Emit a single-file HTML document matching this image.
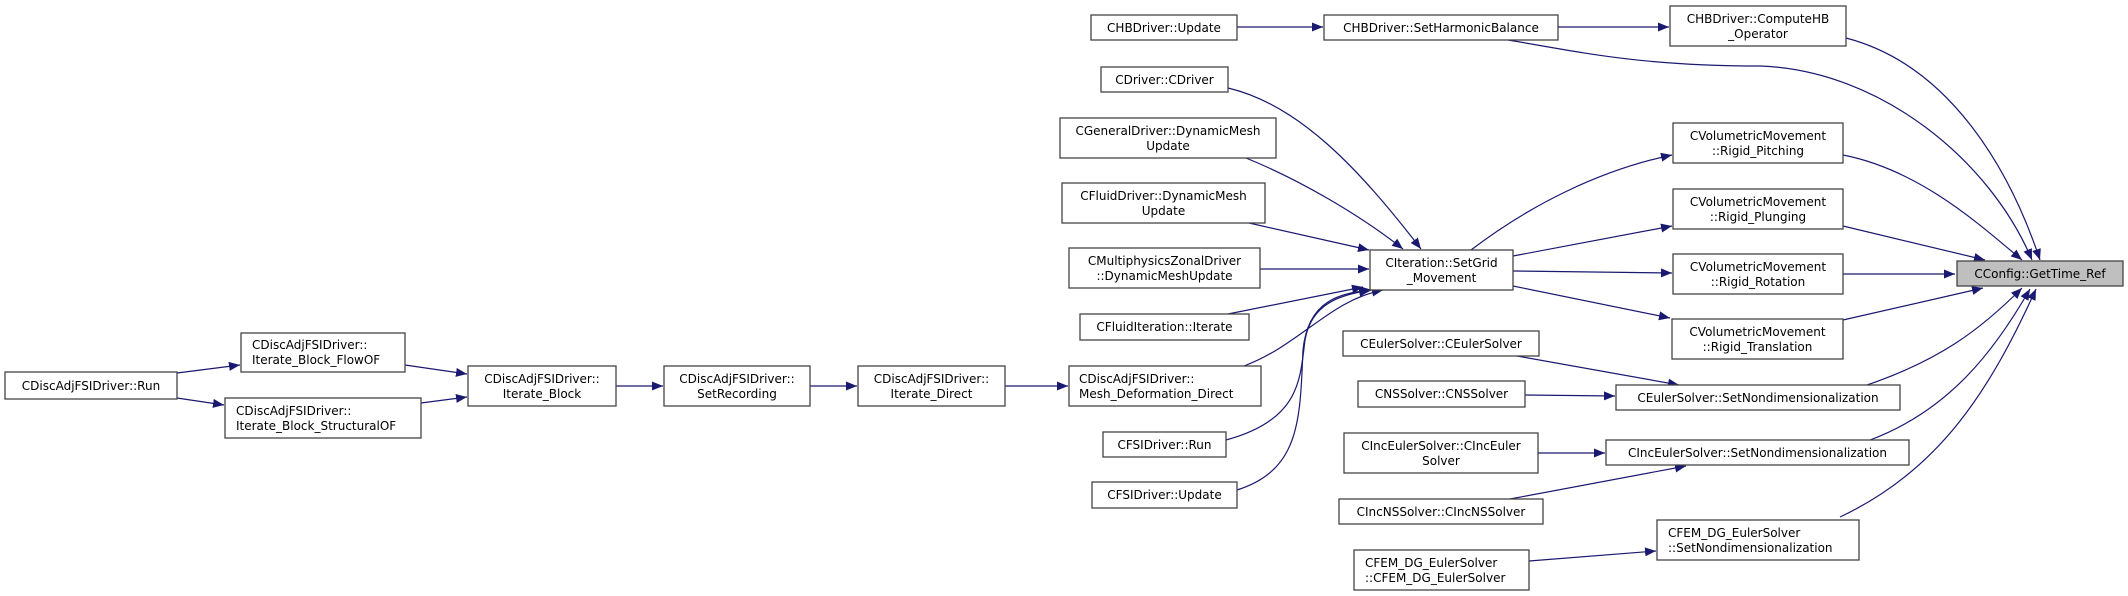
<!DOCTYPE html>
<html><head><meta charset="utf-8"><style>
html,body{margin:0;padding:0;background:#fff}
svg{display:block}
text{font-family:"DejaVu Sans","Liberation Sans",sans-serif;font-size:12px;fill:#000}
.n{fill:#fff;stroke:#444;stroke-width:1.3}
.e{fill:none;stroke:#191970;stroke-width:1.2}
</style></head><body>
<svg width="2128" height="596" viewBox="0 0 2128 596" xmlns="http://www.w3.org/2000/svg">
<defs><marker id="a" markerUnits="userSpaceOnUse" markerWidth="12" markerHeight="10" refX="11" refY="4.5" orient="auto"><path d="M0,0 L11,4.5 L0,9 Z" fill="#191970"/></marker></defs>
<g class="e" marker-end="url(#a)">
<path d="M177,373 L240,365"/>
<path d="M177,398 L224,405"/>
<path d="M405,365 L467,374"/>
<path d="M421,403 L467,397"/>
<path d="M616,386 L663,386"/>
<path d="M810,386 L857,386"/>
<path d="M1005,386 L1068,386"/>
<path d="M1237,27 L1323,27"/>
<path d="M1558,27 L1669,27"/>
<path d="M1508,40 C1580,52 1640,66 1760,66 C1880,70 1990,160 2032,260"/>
<path d="M1846,38 C1950,65 2010,170 2040,260"/>
<path d="M1843,155 C1920,170 1980,225 2022,260"/>
<path d="M1843,226 L1985,260"/>
<path d="M1843,274 L1955,274"/>
<path d="M1843,320 L1983,288"/>
<path d="M1867,385 C1940,360 1980,330 2022,288"/>
<path d="M1870,440 C1950,410 1995,350 2030,289"/>
<path d="M1840,517 C1940,470 1990,390 2036,289"/>
<path d="M1471,250 C1530,205 1600,170 1672,155"/>
<path d="M1513,256 L1672,226"/>
<path d="M1513,271 L1672,273"/>
<path d="M1513,286 L1670,318"/>
<path d="M1228,88 C1300,105 1360,170 1421,249"/>
<path d="M1246,158 C1300,180 1360,215 1403,249"/>
<path d="M1249,223 L1369,250"/>
<path d="M1260,269 L1369,269"/>
<path d="M1228,314 L1363,287"/>
<path d="M1244,366 C1300,345 1330,300 1383,290"/>
<path d="M1226,440 C1300,420 1300,380 1305,340 C1312,300 1345,295 1370,290"/>
<path d="M1237,490 C1300,470 1300,420 1303,350 C1308,300 1340,293 1372,290"/>
<path d="M1517,356 L1679,385"/>
<path d="M1525,395 L1615,396"/>
<path d="M1538,453 L1605,453"/>
<path d="M1510,499 L1686,466"/>
<path d="M1529,561 L1656,551"/>
</g>
<g>
<rect class="n" x="5" y="372" width="172" height="27"/><text x="91" y="390" text-anchor="middle">CDiscAdjFSIDriver::Run</text>
<rect class="n" x="241" y="333" width="164" height="39"/><text x="252" y="349">CDiscAdjFSIDriver::</text><text x="252" y="364">Iterate_Block_FlowOF</text>
<rect class="n" x="225" y="398" width="196" height="40"/><text x="236" y="415">CDiscAdjFSIDriver::</text><text x="236" y="430">Iterate_Block_StructuralOF</text>
<rect class="n" x="468" y="366" width="148" height="40"/><text x="542" y="383" text-anchor="middle">CDiscAdjFSIDriver::</text><text x="542" y="398" text-anchor="middle">Iterate_Block</text>
<rect class="n" x="664" y="366" width="146" height="40"/><text x="737" y="383" text-anchor="middle">CDiscAdjFSIDriver::</text><text x="737" y="398" text-anchor="middle">SetRecording</text>
<rect class="n" x="858" y="366" width="147" height="40"/><text x="931.5" y="383" text-anchor="middle">CDiscAdjFSIDriver::</text><text x="931.5" y="398" text-anchor="middle">Iterate_Direct</text>
<rect class="n" x="1091" y="15" width="146" height="25"/><text x="1164" y="32" text-anchor="middle">CHBDriver::Update</text>
<rect class="n" x="1324" y="15" width="234" height="25"/><text x="1441" y="32" text-anchor="middle">CHBDriver::SetHarmonicBalance</text>
<rect class="n" x="1670" y="6" width="176" height="40"/><text x="1758" y="23" text-anchor="middle">CHBDriver::ComputeHB</text><text x="1758" y="38" text-anchor="middle">_Operator</text>
<rect class="n" x="1101" y="67" width="127" height="25"/><text x="1164.5" y="84" text-anchor="middle">CDriver::CDriver</text>
<rect class="n" x="1060" y="118" width="216" height="40"/><text x="1168" y="135" text-anchor="middle">CGeneralDriver::DynamicMesh</text><text x="1168" y="150" text-anchor="middle">Update</text>
<rect class="n" x="1062" y="183" width="203" height="40"/><text x="1163.5" y="200" text-anchor="middle">CFluidDriver::DynamicMesh</text><text x="1163.5" y="215" text-anchor="middle">Update</text>
<rect class="n" x="1069" y="248" width="191" height="40"/><text x="1164.5" y="265" text-anchor="middle">CMultiphysicsZonalDriver</text><text x="1164.5" y="280" text-anchor="middle">::DynamicMeshUpdate</text>
<rect class="n" x="1370" y="250" width="143" height="40"/><text x="1441.5" y="267" text-anchor="middle">CIteration::SetGrid</text><text x="1441.5" y="282" text-anchor="middle">_Movement</text>
<rect class="n" x="1080" y="314" width="169" height="26"/><text x="1164.5" y="331" text-anchor="middle">CFluidIteration::Iterate</text>
<rect class="n" x="1069" y="366" width="192" height="40"/><text x="1079" y="383">CDiscAdjFSIDriver::</text><text x="1079" y="398">Mesh_Deformation_Direct</text>
<rect class="n" x="1103" y="432" width="123" height="25"/><text x="1164.5" y="449" text-anchor="middle">CFSIDriver::Run</text>
<rect class="n" x="1092" y="482" width="145" height="26"/><text x="1164.5" y="499" text-anchor="middle">CFSIDriver::Update</text>
<rect class="n" x="1343" y="331" width="196" height="25"/><text x="1441" y="348" text-anchor="middle">CEulerSolver::CEulerSolver</text>
<rect class="n" x="1358" y="381" width="167" height="26"/><text x="1441.5" y="398" text-anchor="middle">CNSSolver::CNSSolver</text>
<rect class="n" x="1344" y="433" width="194" height="40"/><text x="1441" y="450" text-anchor="middle">CIncEulerSolver::CIncEuler</text><text x="1441" y="465" text-anchor="middle">Solver</text>
<rect class="n" x="1339" y="499" width="204" height="25"/><text x="1441" y="516" text-anchor="middle">CIncNSSolver::CIncNSSolver</text>
<rect class="n" x="1354" y="550" width="175" height="40"/><text x="1365" y="567">CFEM_DG_EulerSolver</text><text x="1365" y="582">::CFEM_DG_EulerSolver</text>
<rect class="n" x="1616" y="385" width="284" height="25"/><text x="1758" y="402" text-anchor="middle">CEulerSolver::SetNondimensionalization</text>
<rect class="n" x="1606" y="440" width="303" height="25"/><text x="1757.5" y="457" text-anchor="middle">CIncEulerSolver::SetNondimensionalization</text>
<rect class="n" x="1657" y="520" width="202" height="40"/><text x="1668" y="537">CFEM_DG_EulerSolver</text><text x="1668" y="552">::SetNondimensionalization</text>
<rect class="n" x="1673" y="123" width="170" height="40"/><text x="1758" y="140" text-anchor="middle">CVolumetricMovement</text><text x="1758" y="155" text-anchor="middle">::Rigid_Pitching</text>
<rect class="n" x="1673" y="189" width="170" height="40"/><text x="1758" y="206" text-anchor="middle">CVolumetricMovement</text><text x="1758" y="221" text-anchor="middle">::Rigid_Plunging</text>
<rect class="n" x="1673" y="254" width="170" height="40"/><text x="1758" y="271" text-anchor="middle">CVolumetricMovement</text><text x="1758" y="286" text-anchor="middle">::Rigid_Rotation</text>
<rect class="n" x="1672" y="319" width="171" height="40"/><text x="1757.5" y="336" text-anchor="middle">CVolumetricMovement</text><text x="1757.5" y="351" text-anchor="middle">::Rigid_Translation</text>
<rect x="1957" y="261" width="166" height="25" fill="#bfbfbf" stroke="#444" stroke-width="1.3"/><text x="2040" y="278" text-anchor="middle">CConfig::GetTime_Ref</text>
</g>
</svg>
</body></html>
